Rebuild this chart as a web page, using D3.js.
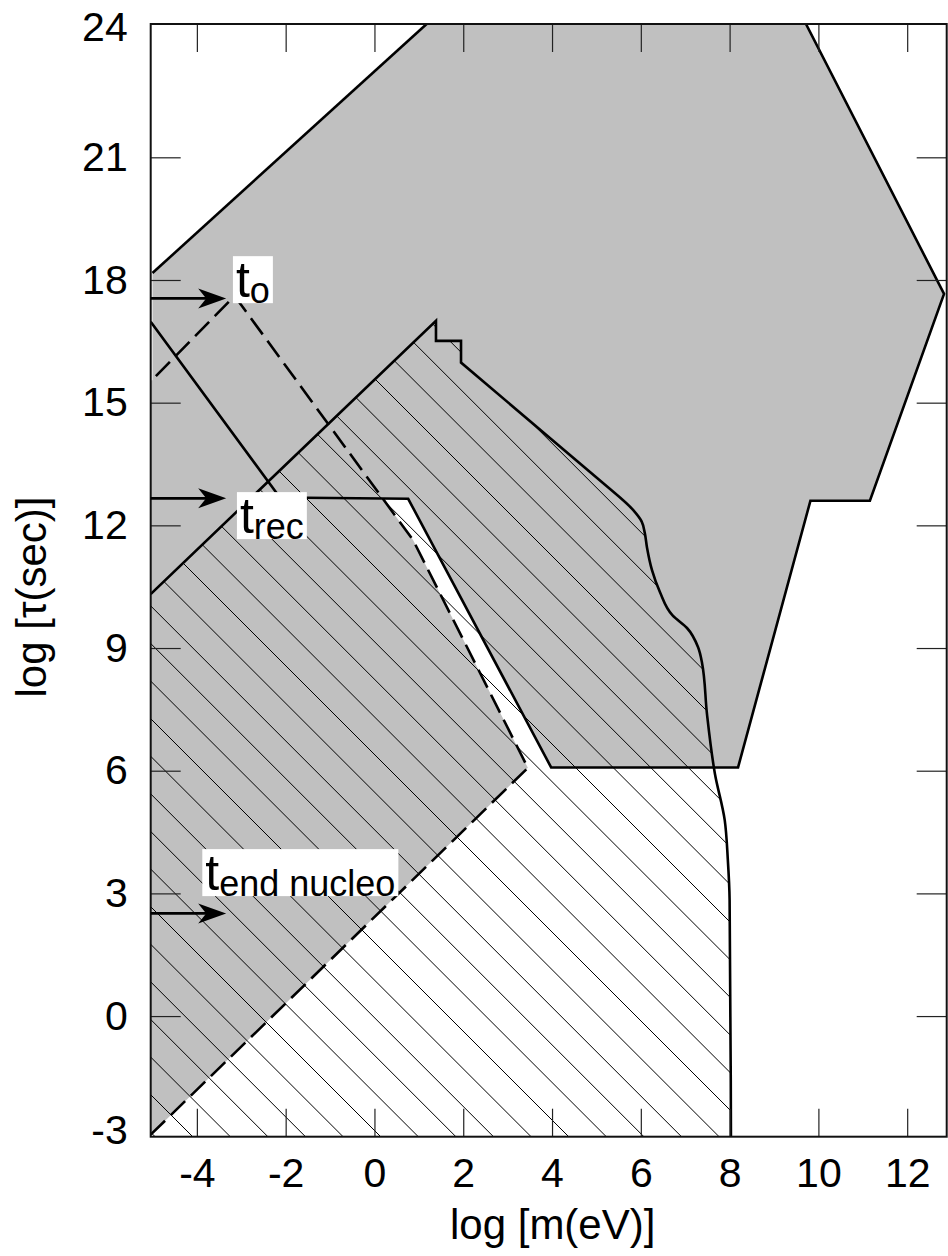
<!DOCTYPE html>
<html><head><meta charset="utf-8">
<script src="https://cdn.jsdelivr.net/npm/d3@7"></script>
<style>
body{margin:0;background:#fff}
text{font-family:"Liberation Sans",Arial,Helvetica,sans-serif;fill:#000}
</style>
</head><body>
<svg id="chart" width="948" height="1256"></svg>
<script>
// ---------- data (log m [eV], log tau [s]) ----------
const xTicks = [-4, -2, 0, 2, 4, 6, 8, 10, 12];
const yTicks = [-3, 0, 3, 6, 9, 12, 15, 18, 21, 24];
const xFrame = [-5.04, 12.89];
const yFrame = [-2.95, 24.26];

const grayRegion = [
  [-5.0, 18.17], [1.175, 24.26], [9.72, 24.26], [12.83, 17.66], [11.16, 12.6],
  [9.82, 12.6], [8.19, 6.08], [3.98, 6.08], [0.76, 12.65], [0.19, 12.65],
  [0.87, 11.64], [3.456, 6.07], [-5.04, -2.9], [-5.04, 15.55], [-5.0, 15.55]
];
const recLine = [
  [-5.04, 16.98], [-2.13, 12.68], [0.76, 12.65], [3.98, 6.08], [8.19, 6.08],
  [9.82, 12.6], [11.16, 12.6], [12.83, 17.66], [9.72, 24.26]
];
const topLeftLine = [[-5.0, 18.17], [1.175, 24.26]];
const dashedLine = [
  [-5.04, -2.9], [3.456, 6.07], [0.87, 11.64], [-3.15, 17.61], [-5.04, 15.52]
];
const hatchStraight = [
  [-5.04, 10.32], [1.386, 17.0], [1.386, 16.51], [1.95, 16.51], [1.95, 15.98], [5.38, 12.82]
];
const hatchCurve = [
  [5.38, 12.82], [5.83, 12.37], [6.02, 12.09], [6.09, 11.81], [6.14, 11.45],
  [6.25, 10.91], [6.43, 10.37], [6.72, 9.79], [7.04, 9.49], [7.29, 9.02],
  [7.38, 8.63], [7.49, 7.39], [7.67, 5.92], [7.89, 4.79], [7.96, 3.82],
  [8.0, 2.84], [8.03, -2.95]
];
const markerSubs = ["o", "rec", "end nucleo"];
const markerArrowY = [17.55, 12.66, 2.51];
const markerLabelX = [-3.12, -3.03, -3.81];
const markerLabelY = [17.58, 11.81, 3.08];
const arrowTipX = -3.34;

// ---------- drawing ----------
const svg = d3.select("#chart");
const L = 150.7, R = 946.7, T = 24, B = 1136.7;
const x = d3.scaleLinear().domain(xFrame).range([L, R]);
const y = d3.scaleLinear().domain(yFrame).range([B, T]);

const defs = svg.append("defs");
defs.append("clipPath").attr("id", "frameClip")
  .append("rect").attr("x", L).attr("y", T).attr("width", R - L).attr("height", B - T);

const lin = d3.line().x(d => x(d[0])).y(d => y(d[1]));
const mono = d3.line().x(d => x(d[0])).y(d => y(d[1])).curve(d3.curveMonotoneY);
const hatchOutline = lin(hatchStraight) + mono(hatchCurve).replace(/^M/, "L");
const hatchRegion = hatchOutline + "L" + x(xFrame[0]) + "," + y(yFrame[0]) + "Z";

defs.append("clipPath").attr("id", "hatchClip")
  .append("path").attr("d", hatchRegion);

const plot = svg.append("g").attr("clip-path", "url(#frameClip)");

// gray region
plot.append("path").attr("d", lin(grayRegion) + "Z").attr("fill", "#c0c0c0").attr("stroke", "none");

// hatch pattern
const hatchG = plot.append("g").attr("clip-path", "url(#hatchClip)");
const step = 37.6, c0 = 944;
const cs = d3.range(-30, 30).map(k => c0 - step * k);
hatchG.selectAll("line").data(cs).join("line")
  .attr("x1", L - 5).attr("y1", c => L - 5 + c)
  .attr("x2", R + 5).attr("y2", c => R + 5 + c)
  .attr("stroke", "#000").attr("stroke-width", 1);

// solid boundaries
plot.append("path").attr("d", lin(topLeftLine)).attr("fill", "none")
  .attr("stroke", "#000").attr("stroke-width", 2.6);
plot.append("path").attr("d", lin(recLine)).attr("fill", "none")
  .attr("stroke", "#000").attr("stroke-width", 2.6).attr("stroke-linejoin", "miter");
plot.append("path").attr("d", hatchOutline).attr("fill", "none")
  .attr("stroke", "#000").attr("stroke-width", 2.6);
plot.append("path").attr("d", lin(dashedLine)).attr("fill", "none")
  .attr("stroke", "#000").attr("stroke-width", 2.6).attr("stroke-dasharray", "20,8");

// axes
const fs = 41;
const fmt = d => String(d);
const axBottom = svg.append("g").attr("transform", `translate(0,${B})`)
  .call(d3.axisBottom(x).tickValues(xTicks).tickSizeInner(-28).tickSizeOuter(0).tickPadding(21).tickFormat(fmt));
const axTop = svg.append("g").attr("transform", `translate(0,${T})`)
  .call(d3.axisTop(x).tickValues(xTicks).tickSizeInner(-28).tickSizeOuter(0).tickFormat(""));
const axLeft = svg.append("g").attr("transform", `translate(${L},0)`)
  .call(d3.axisLeft(y).tickValues(yTicks).tickSizeInner(-30).tickSizeOuter(0).tickPadding(23).tickFormat(fmt));
const axRight = svg.append("g").attr("transform", `translate(${R},0)`)
  .call(d3.axisRight(y).tickValues(yTicks.filter(v => v > -3 && v < 24)).tickSizeInner(-30).tickSizeOuter(0).tickFormat(""));

[axBottom, axTop, axLeft, axRight].forEach(g => {
  g.select(".domain").remove();
  g.selectAll(".tick line").attr("stroke", "#222").attr("stroke-width", 1.2);
  g.selectAll(".tick text").attr("font-size", fs).attr("font-family", '"Liberation Sans",Arial,sans-serif').attr("fill", "#000");
});
axLeft.selectAll(".tick").filter(d => d === 24 || d === -3).select("line").remove();
axLeft.selectAll(".tick").filter(d => d === 24).select("text").attr("y", -7);
axLeft.selectAll(".tick").filter(d => d === -3).select("text").attr("y", -8);

// frame
svg.append("rect").attr("x", L).attr("y", T).attr("width", R - L).attr("height", B - T)
  .attr("fill", "none").attr("stroke", "#111").attr("stroke-width", 2);

// axis titles
svg.append("text").attr("x", (L + R) / 2 + 4).attr("y", 1239).attr("text-anchor", "middle")
  .attr("font-size", 42).text("log [m(eV)]");
svg.append("text").attr("transform", `translate(46,597) rotate(-90)`).attr("text-anchor", "middle")
  .attr("font-size", 42).text("log [τ(sec)]");

// markers: arrows and labels
markerSubs.forEach((sub, i) => {
  const ay = y(markerArrowY[i]);
  const tx = x(arrowTipX);
  svg.append("line").attr("x1", L).attr("y1", ay).attr("x2", tx - 18).attr("y2", ay)
    .attr("stroke", "#000").attr("stroke-width", 2.6);
  svg.append("path")
    .attr("d", `M${tx},${ay}L${tx - 28},${ay - 10}L${tx - 20},${ay}L${tx - 28},${ay + 10}Z`)
    .attr("fill", "#000");

  const g = svg.append("g");
  const bx = x(markerLabelX[i]), by = y(markerLabelY[i]);
  const rect = g.append("rect").attr("fill", "#fff");
  const t = g.append("text").attr("x", bx).attr("y", by);
  t.append("tspan").attr("font-size", 50).text("t");
  t.append("tspan").attr("font-size", 36).attr("dy", 6).text(sub);
  const bb = t.node().getBBox();
  rect.attr("x", bb.x - 3).attr("y", by - 41).attr("width", bb.width + 6).attr("height", 47);
});
</script>
</body></html>
